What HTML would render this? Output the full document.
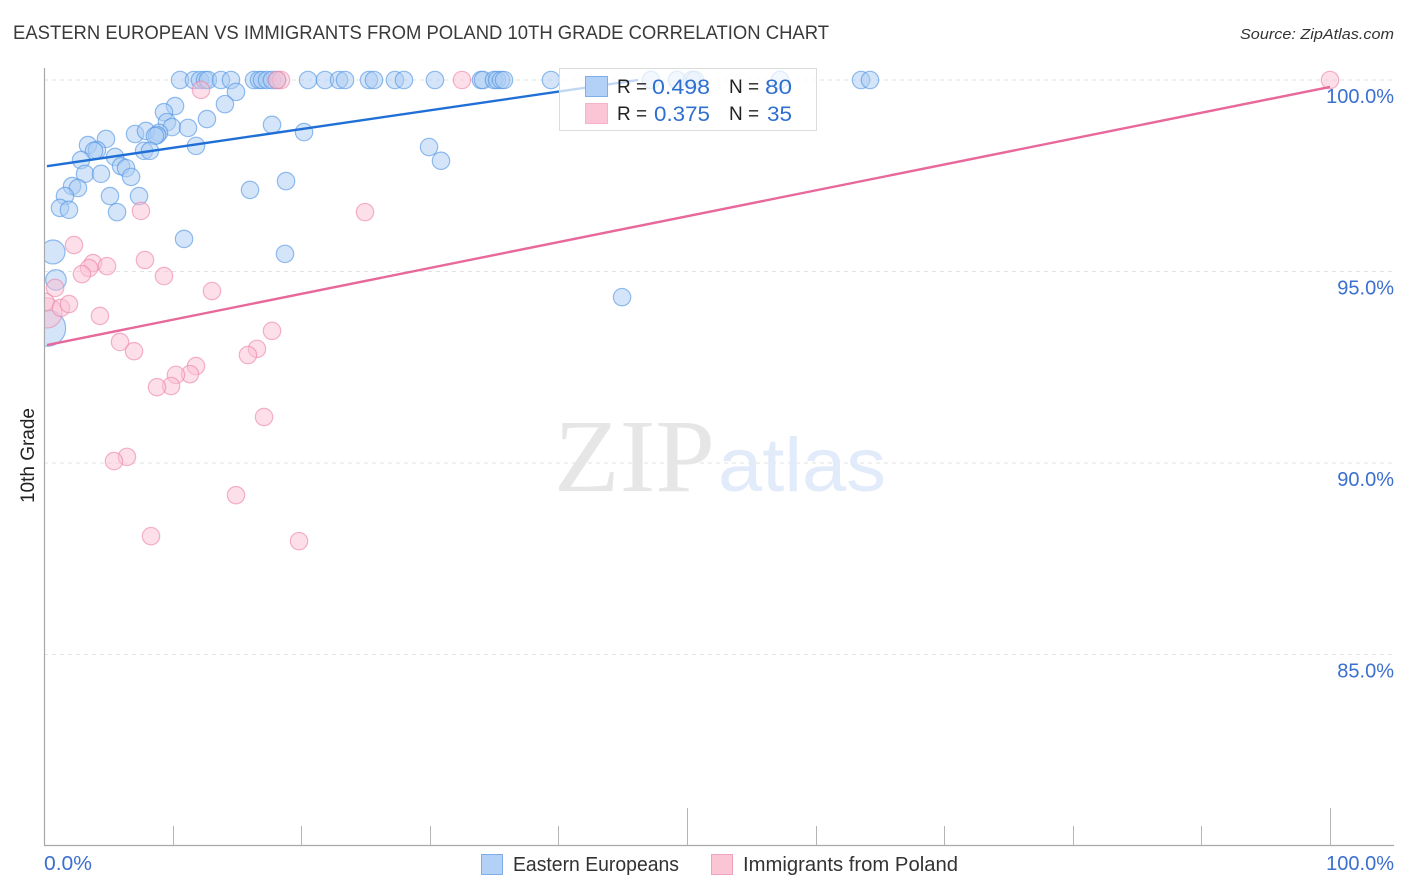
<!DOCTYPE html>
<html lang="en">
<head>
<meta charset="utf-8">
<title>Eastern European vs Immigrants from Poland 10th Grade Correlation Chart</title>
<style>
html,body{margin:0;padding:0;background:#fff;width:1406px;height:892px;overflow:hidden}
svg{display:block;font-family:"Liberation Sans",sans-serif}
</style>
</head>
<body>
<svg id="chart" width="1406" height="892" viewBox="0 0 1406 892" xmlns="http://www.w3.org/2000/svg">
  <text x="13" y="39" font-size="19" fill="#3a3a3a" textLength="816" lengthAdjust="spacingAndGlyphs">EASTERN EUROPEAN VS IMMIGRANTS FROM POLAND 10TH GRADE CORRELATION CHART</text>
  <text x="1394" y="39" font-size="15" font-style="italic" fill="#333" text-anchor="end" textLength="154" lengthAdjust="spacingAndGlyphs">Source: ZipAtlas.com</text>
  <g id="grid"></g>
  <g>
    <text x="554" y="491" font-family="'Liberation Serif',serif" font-size="104" fill="#e6e6e6" textLength="161" lengthAdjust="spacingAndGlyphs">ZIP</text>
    <text x="718" y="491" font-size="76" fill="#e1ebf9" textLength="168" lengthAdjust="spacingAndGlyphs">atlas</text>
  </g>
  <g id="axes"></g>
  <svg x="45" y="60" width="1361" height="786" viewBox="45 60 1361 786">
    <g id="marks"></g>
  </svg>
  <g id="trends"></g>
  <g>
    <rect x="559.5" y="68.5" width="257" height="62" fill="#fff" fill-opacity="0.72" stroke="#dcdcdc"/>
    <rect x="585.5" y="76.5" width="22" height="20" fill="#b3d1f7" stroke="#7faee8"/>
    <rect x="585.5" y="103.5" width="22" height="20" fill="#fcc5d6" stroke="#f5b3c9"/>
    <text x="617" y="93" font-size="19" fill="#222">R =</text>
    <text x="652" y="94" font-size="21" fill="#2f6fd0" textLength="58" lengthAdjust="spacingAndGlyphs">0.498</text>
    <text x="729" y="93" font-size="19" fill="#222">N =</text>
    <text x="765" y="94" font-size="21" fill="#2f6fd0" textLength="27" lengthAdjust="spacingAndGlyphs">80</text>
    <text x="617" y="120" font-size="19" fill="#222">R =</text>
    <text x="654" y="121" font-size="21" fill="#2f6fd0" textLength="56" lengthAdjust="spacingAndGlyphs">0.375</text>
    <text x="729" y="120" font-size="19" fill="#222">N =</text>
    <text x="767" y="121" font-size="21" fill="#2f6fd0" textLength="25" lengthAdjust="spacingAndGlyphs">35</text>
  </g>
  <text transform="translate(34,503) rotate(-90)" font-size="19" fill="#222" textLength="95" lengthAdjust="spacingAndGlyphs">10th Grade</text>
  <g>
    <rect x="481.5" y="854.5" width="21" height="20" fill="#b3d1f7" stroke="#7faee8"/>
    <text x="513" y="871" font-size="20" fill="#333" textLength="166" lengthAdjust="spacingAndGlyphs">Eastern Europeans</text>
    <rect x="711.5" y="854.5" width="21" height="20" fill="#fcc5d6" stroke="#f0a3bd"/>
    <text x="743" y="871" font-size="20" fill="#333" textLength="215" lengthAdjust="spacingAndGlyphs">Immigrants from Poland</text>
  </g>
</svg>
<script>
const yTicks = [100, 95, 90, 85];
const yTickLabels = ["100.0%", "95.0%", "90.0%", "85.0%"];
const xTicks = [10, 20, 30, 40, 50, 60, 70, 80, 90, 100];
const xMajorTicks = [50, 100];
const xEndLabels = ["0.0%", "100.0%"];

const blueX = [0.70,0.93,0.28,10.58,11.66,12.13,12.52,12.75,13.76,14.54,16.33,16.72,16.95,17.34,17.73,18.12,20.53,21.85,22.94,23.41,25.27,25.66,27.29,27.99,30.40,33.98,34.14,34.99,35.23,35.54,35.77,39.42,47.2,49.22,50.39,50.62,57.23,63.53,64.23,14.93,14.07,12.67,10.19,9.33,9.56,9.95,11.20,7.08,7.93,8.94,8.79,8.63,17.73,20.22,11.82,4.82,3.42,4.12,3.89,2.88,7.78,8.24,5.52,5.99,6.38,6.77,3.19,4.43,18.82,16.02,2.18,2.64,1.63,5.13,7.39,1.24,1.94,5.68,10.89,18.74,29.94,30.87,44.95];
const blueY = [95.51,94.78,93.52,100,100,100,100,100,100,100,100,100,100,100,100,100,100,100,100,100,100,100,100,100,100,100,100,100,100,100,100,100,100,100,100,100,100,100,100,99.69,99.37,98.98,99.32,99.16,98.90,98.77,98.75,98.59,98.67,98.62,98.56,98.54,98.83,98.64,98.28,98.46,98.30,98.17,98.15,97.91,98.15,98.15,97.99,97.75,97.70,97.47,97.55,97.55,97.36,97.13,97.23,97.18,96.97,96.97,96.97,96.66,96.61,96.55,95.85,95.46,98.25,97.89,94.33];
const blueWeight = [1.9,1.4,4.3];

const pinkX = [0.23,0.08,100,32.50,18.43,18.12,12.21,7.54,24.96,2.33,7.85,3.81,3.50,2.95,4.90,9.33,13.06,0.86,1.32,1.94,4.35,5.91,7.0,17.73,16.56,15.86,11.82,11.35,10.26,9.88,8.79,17.11,6.45,5.44,14.93,8.32,19.83];
const pinkY = [93.92,94.2,100,100,100,100,99.74,96.58,96.55,95.69,95.30,95.22,95.09,94.93,95.14,94.88,94.49,94.57,94.05,94.15,93.84,93.16,92.92,93.45,92.98,92.82,92.53,92.32,92.30,92.01,91.98,91.20,90.16,90.05,89.16,88.09,87.96];
const pinkWeight = [3.0,1.1];

const blueTrendX = [0.23, 46.19];
const blueTrendY = [97.75, 100];
const pinkTrendX = [0.23, 100];
const pinkTrendY = [93.08, 99.82];

const NS = "http://www.w3.org/2000/svg";
const xScale = v => 44 + v * 12.86;
const yScale = v => 80 + (100 - v) * 38.3;
const radius = w => 8.7 * Math.sqrt(w);

function make(tag, attrs, parent) {
  const el = document.createElementNS(NS, tag);
  for (const k in attrs) el.setAttribute(k, attrs[k]);
  parent.appendChild(el);
  return el;
}

const grid = document.getElementById("grid");
const axes = document.getElementById("axes");
const marks = document.getElementById("marks");
const trends = document.getElementById("trends");

yTicks.forEach((t, i) => {
  const line = make("line", {x1: 44, x2: 1394, y1: yScale(t), y2: yScale(t), stroke: "#e2e2e2", "stroke-dasharray": "4 4"}, grid);
  
  
  const label = make("text", {x: 1394, y: yScale(t) + 23, "font-size": 20, fill: "#3b6fd0", "text-anchor": "end"}, axes);
  
  
  label.textContent = yTickLabels[i];
});

const yAxis = make("line", {x1: 44.5, x2: 44.5, y1: 68, y2: 846, stroke: "#a8a8a8", "stroke-width": 1.2}, axes);


const xAxis = make("line", {x1: 44, x2: 1394, y1: 845.5, y2: 845.5, stroke: "#a8a8a8", "stroke-width": 1.2}, axes);



xTicks.forEach(t => {
  const top = xMajorTicks.includes(t) ? 808 : 826;
  const tick = make("line", {x1: Math.round(xScale(t)) + 0.5, x2: Math.round(xScale(t)) + 0.5, y1: top, y2: 845, stroke: "#b5b5b5"}, axes);
  
  
});

const xLabelLeft = make("text", {x: 44, y: 870, "font-size": 20, fill: "#3b6fd0", textLength: 48, lengthAdjust: "spacingAndGlyphs"}, axes);


xLabelLeft.textContent = xEndLabels[0];
const xLabelRight = make("text", {x: 1394, y: 870, "font-size": 20, fill: "#3b6fd0", "text-anchor": "end"}, axes);


xLabelRight.textContent = xEndLabels[1];

blueX.forEach((v, i) => {
  const dot = make("circle", {cx: xScale(v), cy: yScale(blueY[i]), r: radius(blueWeight[i] || 1), fill: "#a9cbf3", "fill-opacity": 0.5, stroke: "#4f93e2", "stroke-opacity": 0.6, "stroke-width": 1.2}, marks);
  
  
});

pinkX.forEach((v, i) => {
  const dot = make("circle", {cx: xScale(v), cy: yScale(pinkY[i]), r: radius(pinkWeight[i] || 1), fill: "#f9bfd2", "fill-opacity": 0.5, stroke: "#ec82a8", "stroke-opacity": 0.6, "stroke-width": 1.2}, marks);
  
  
});

const blueTrend = make("line", {x1: xScale(blueTrendX[0]), y1: yScale(blueTrendY[0]), x2: xScale(blueTrendX[1]), y2: yScale(blueTrendY[1]), stroke: "#1f6fd6", "stroke-width": 2.4}, trends);


const pinkTrend = make("line", {x1: xScale(pinkTrendX[0]), y1: yScale(pinkTrendY[0]), x2: xScale(pinkTrendX[1]), y2: yScale(pinkTrendY[1]), stroke: "#e8689b", "stroke-width": 2.4}, trends);


</script>
</body>
</html>
